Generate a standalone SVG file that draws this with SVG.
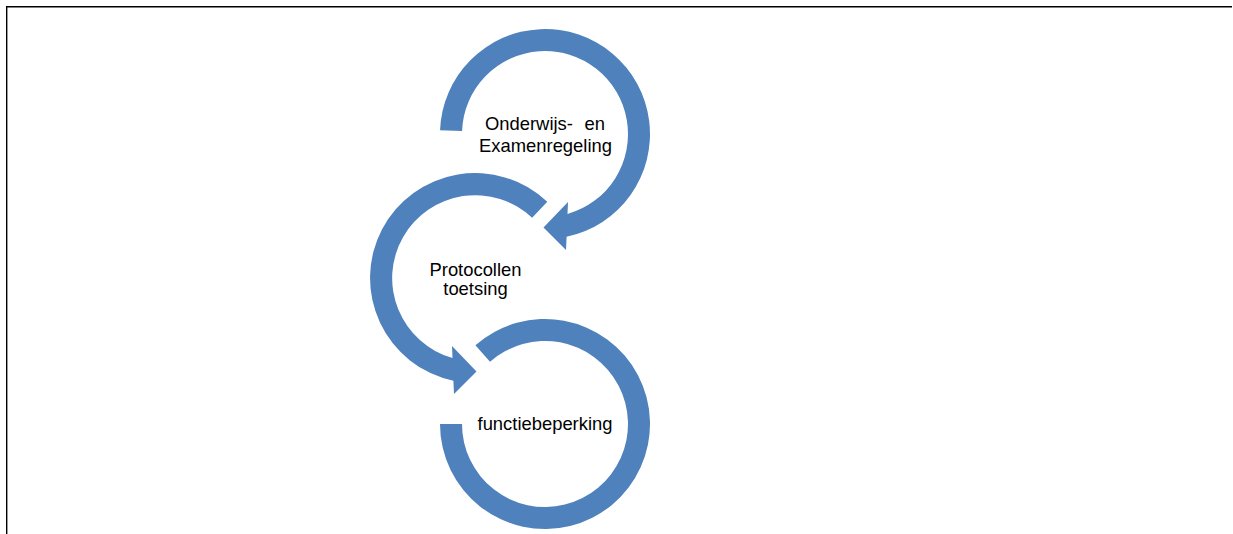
<svg xmlns="http://www.w3.org/2000/svg" width="1233" height="534" viewBox="0 0 1233 534">
  <style>
    .ring { fill: #4F81BD; stroke: none; }
    .label { font-family: "Liberation Sans", Arial, sans-serif; font-size: 18.4px; fill: #000; }
    .frame { fill: none; stroke: #000; stroke-width: 1.4; }
  </style>
  <rect width="1233" height="534" fill="#fff"/>

  <!-- page frame: top and left edges -->
  <path class="frame" d="M6.7,534 V6.7 H1232"/>

  <!-- step 1: clockwise ring ending in an arrowhead at the bottom -->
  <g id="node-oer">
    <path class="ring" d="M440.06,130.34 A105,105 0 1 1 566.6,236.8 L566,250 L543.5,227.5 L568,202 L567.5,214 A83,83 0 1 0 462.05,131.10 Z"/>
    <text class="label" y="130"><tspan x="485">Onderwijs-</tspan><tspan x="605" text-anchor="end">en</tspan></text>
    <text class="label" x="545.5" y="151.5" text-anchor="middle">Examenregeling</text>
  </g>

  <!-- step 2: counter-clockwise ring ending in an arrowhead at the bottom -->
  <g id="node-protocollen">
    <path class="ring" d="M547.28,201.84 A105,105 0 1 0 453.4,380.8 L454,394 L476.5,371.5 L452,346 L452.5,358 A83,83 0 1 1 532.13,217.79 Z"/>
    <text class="label" x="475.5" y="276" text-anchor="middle">Protocollen</text>
    <text class="label" x="475.5" y="295" text-anchor="middle">toetsing</text>
  </g>

  <!-- step 3: open ring without arrowhead -->
  <g id="node-functiebeperking">
    <path class="ring" d="M475.42,345.36 A105,105 0 1 1 440,424 L462,424 A83,83 0 1 0 490,361.84 Z"/>
    <text class="label" x="545" y="430" text-anchor="middle">functiebeperking</text>
  </g>
</svg>
